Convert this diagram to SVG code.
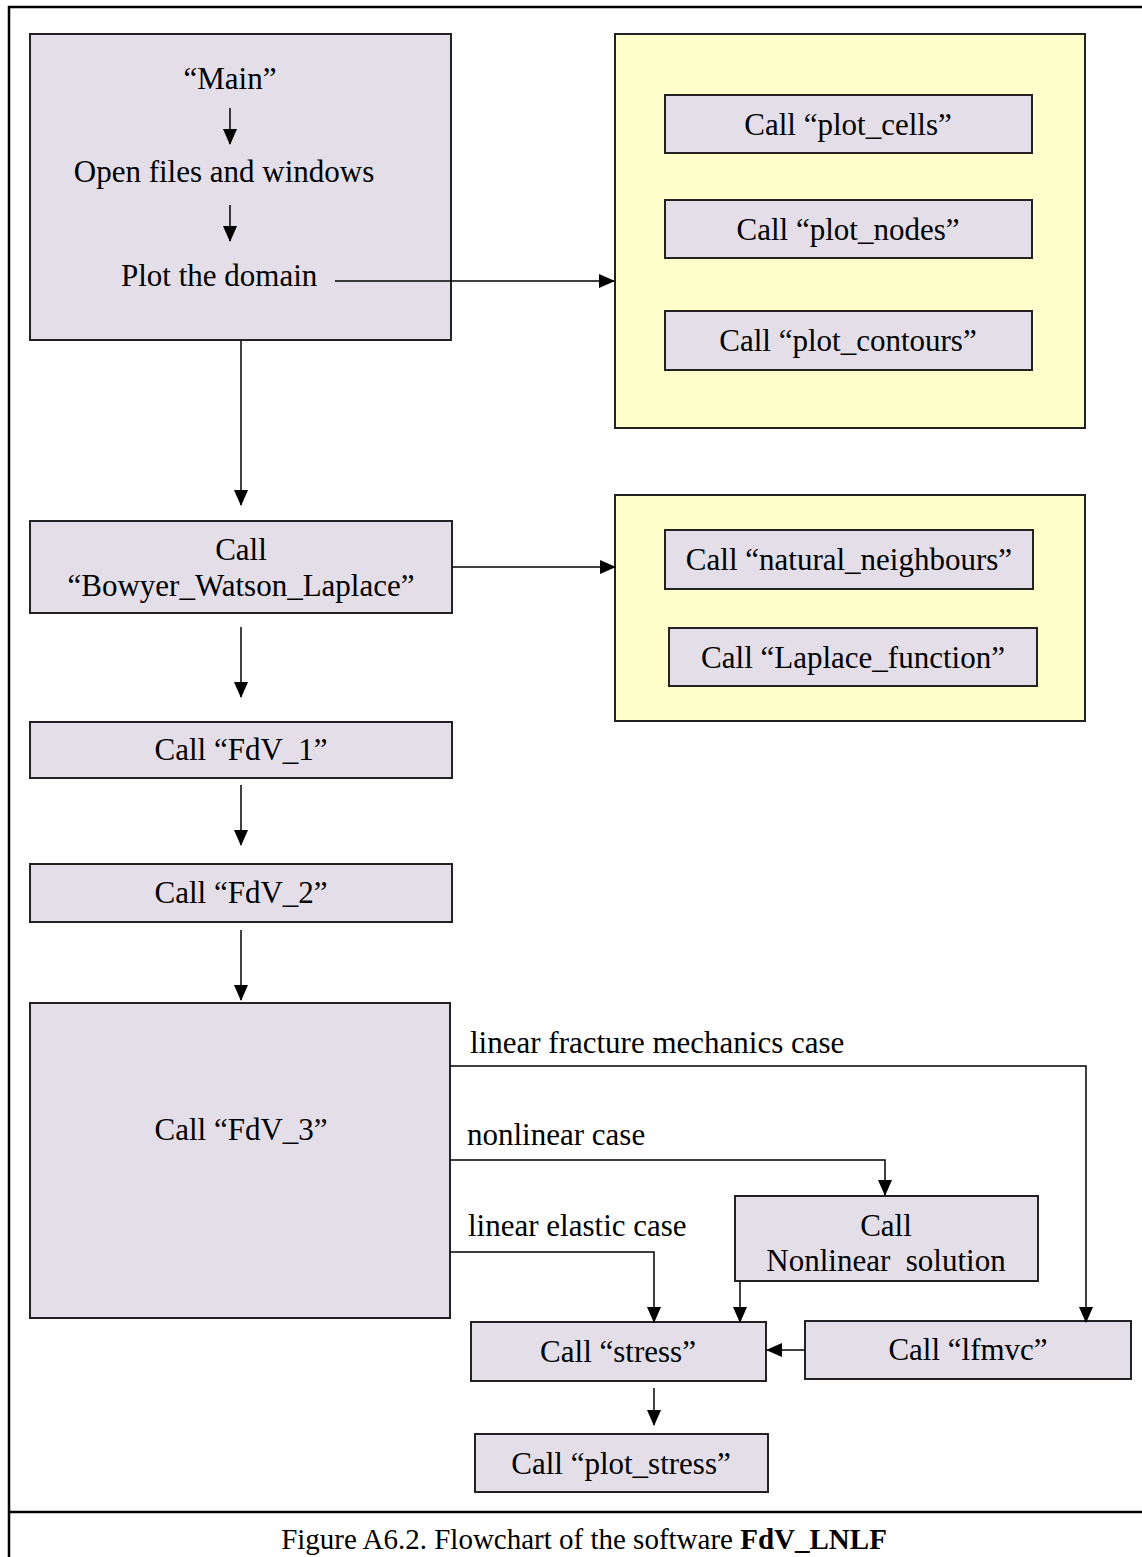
<svg xmlns="http://www.w3.org/2000/svg" width="1142" height="1557" viewBox="0 0 1142 1557">
<defs>
<marker id="ahb" markerWidth="16" markerHeight="16" refX="15" refY="8" orient="auto" markerUnits="userSpaceOnUse" viewBox="0 0 16 16">
<path d="M0,1 L16,8 L0,15 z" fill="#000"/>
</marker>
</defs>
<style>
text{font-family:"Liberation Serif","Times New Roman",serif;font-size:31px;fill:#000}
.c{text-anchor:middle}
.cap{font-size:29px}
.box{fill:#e3dee8;stroke:#222;stroke-width:2}
.ybox{fill:#ffffcc;stroke:#222;stroke-width:2}
.ln{fill:none;stroke:#000;stroke-width:1.5}
</style>
<rect x="0" y="0" width="1142" height="1557" fill="#fff"/>
<g id="frame">
<path d="M9,1557 L9,7 L1142,7" fill="none" stroke="#000" stroke-width="2.5"/>
<line x1="9" y1="1512" x2="1142" y2="1512" stroke="#000" stroke-width="2.5"/>
</g>
<g id="main">
<rect class="box" x="30" y="34" width="421" height="306"/>
<text class="c" x="230" y="89">“Main”</text>
<text class="c" x="224" y="182">Open files and windows</text>
<text x="121" y="286">Plot the domain</text>
</g>
<g id="plotgroup">
<rect class="ybox" x="615" y="34" width="470" height="394"/>
</g>
<g id="plot_cells"><rect class="box" x="665" y="95" width="367" height="58"/><text class="c" x="848" y="135">Call “plot_cells”</text></g>
<g id="plot_nodes"><rect class="box" x="665" y="200" width="367" height="58"/><text class="c" x="848" y="240">Call “plot_nodes”</text></g>
<g id="plot_contours"><rect class="box" x="665" y="311" width="367" height="59"/><text class="c" x="848" y="351">Call “plot_contours”</text></g>
<g id="bowyer"><rect class="box" x="30" y="521" width="422" height="92"/><text class="c" x="241" y="560">Call</text><text class="c" x="241" y="596">“Bowyer_Watson_Laplace”</text></g>
<g id="laplacegroup"><rect class="ybox" x="615" y="495" width="470" height="226"/></g>
<g id="natural"><rect class="box" x="665" y="530" width="368" height="59"/><text class="c" x="849" y="570">Call “natural_neighbours”</text></g>
<g id="laplace"><rect class="box" x="669" y="628" width="368" height="58"/><text class="c" x="853" y="668">Call “Laplace_function”</text></g>
<g id="fdv1"><rect class="box" x="30" y="722" width="422" height="56"/><text class="c" x="241" y="760">Call “FdV_1”</text></g>
<g id="fdv2"><rect class="box" x="30" y="864" width="422" height="58"/><text class="c" x="241" y="903">Call “FdV_2”</text></g>
<g id="fdv3"><rect class="box" x="30" y="1003" width="420" height="315"/><text class="c" x="241" y="1140">Call “FdV_3”</text></g>
<g id="nonlinear"><rect class="box" x="735" y="1196" width="303" height="85"/><text class="c" x="886" y="1236">Call</text><text class="c" x="886" y="1271" xml:space="preserve">Nonlinear  solution</text></g>
<g id="stress"><rect class="box" x="471" y="1322" width="295" height="59"/><text class="c" x="618" y="1362">Call “stress”</text></g>
<g id="lfmvc"><rect class="box" x="805" y="1321" width="326" height="58"/><text class="c" x="968" y="1360">Call “lfmvc”</text></g>
<g id="plot_stress"><rect class="box" x="475" y="1434" width="293" height="58"/><text class="c" x="621" y="1474">Call “plot_stress”</text></g>
<g id="connectors">
<line class="ln" x1="230" y1="108" x2="230" y2="144" marker-end="url(#ahb)"/>
<line class="ln" x1="230" y1="205" x2="230" y2="241" marker-end="url(#ahb)"/>
<line class="ln" x1="335" y1="281" x2="614" y2="281" marker-end="url(#ahb)"/>
<line class="ln" x1="241" y1="341" x2="241" y2="505" marker-end="url(#ahb)"/>
<line class="ln" x1="452" y1="567" x2="615" y2="567" marker-end="url(#ahb)"/>
<line class="ln" x1="241" y1="627" x2="241" y2="697" marker-end="url(#ahb)"/>
<line class="ln" x1="241" y1="785" x2="241" y2="845" marker-end="url(#ahb)"/>
<line class="ln" x1="241" y1="930" x2="241" y2="1000" marker-end="url(#ahb)"/>
<polyline class="ln" points="450,1066 1086,1066 1086,1322" marker-end="url(#ahb)"/>
<polyline class="ln" points="450,1160 885,1160 885,1195" marker-end="url(#ahb)"/>
<polyline class="ln" points="450,1252 654,1252 654,1322" marker-end="url(#ahb)"/>
<line class="ln" x1="740" y1="1281" x2="740" y2="1322" marker-end="url(#ahb)"/>
<line class="ln" x1="805" y1="1350" x2="767" y2="1350" marker-end="url(#ahb)"/>
<line class="ln" x1="654" y1="1388" x2="654" y2="1425" marker-end="url(#ahb)"/>
<text x="470" y="1053">linear fracture mechanics case</text>
<text x="467" y="1145">nonlinear case</text>
<text x="468" y="1236">linear elastic case</text>
</g>
<text class="c cap" x="584" y="1549">Figure A6.2. Flowchart of the software <tspan font-weight="bold">FdV_LNLF</tspan></text>
</svg>
